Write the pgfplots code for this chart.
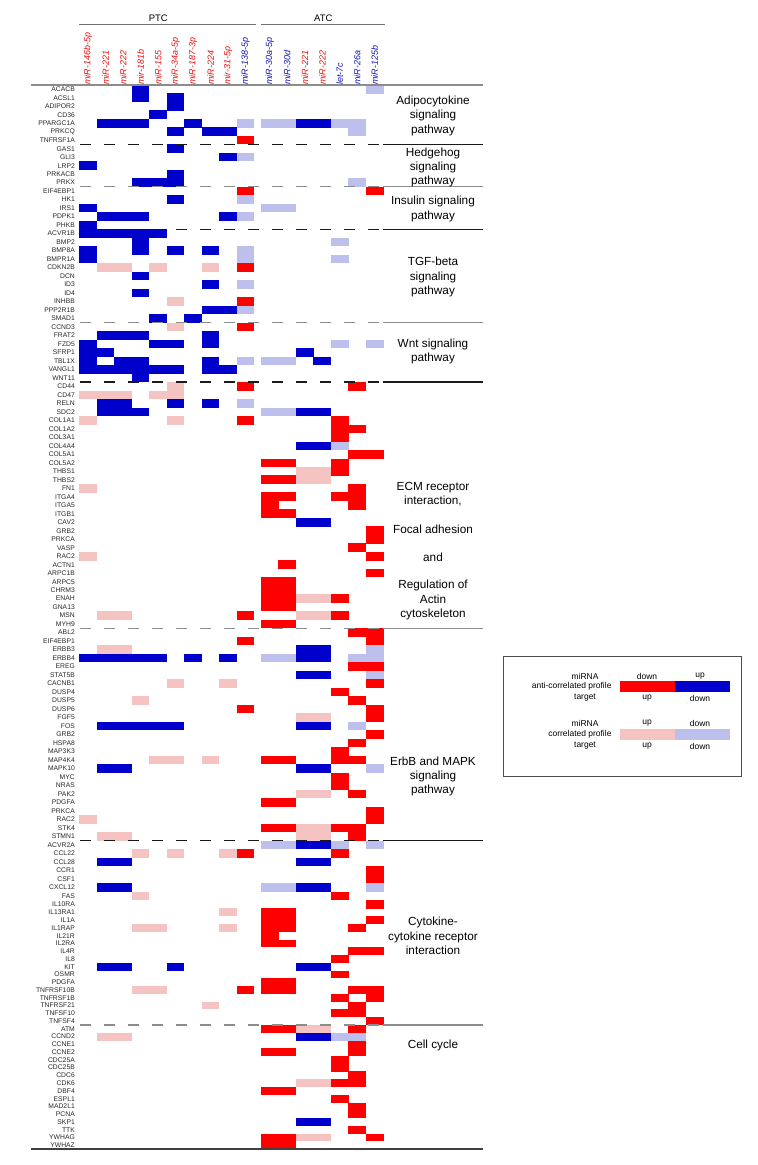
\documentclass[border=0pt]{standalone}
\usepackage{fontspec}
\setmainfont{Liberation Sans}
\usepackage{pgfplots}
\pgfplotsset{compat=1.18}
\usepackage{pgfplotstable}

\definecolor{cR}{HTML}{FF0000}
\definecolor{cB}{HTML}{0000CC}
\definecolor{cP}{HTML}{F6C3C3}
\definecolor{cL}{HTML}{BDBFEC}
\definecolor{lR}{HTML}{EE1111}
\definecolor{lB}{HTML}{1414BE}
\definecolor{sepK}{HTML}{1A1A1A}
\definecolor{sepG}{HTML}{8C8C8C}

\pgfdeclareplotmark{cellA}{\pgfpathrectangle{\pgfpoint{-8.8bp}{-4.3bp}}{\pgfpoint{17.6bp}{8.6bp}}\pgfusepath{fill}}
\pgfdeclareplotmark{cellB}{\pgfpathrectangle{\pgfpoint{-8.8bp}{-3.93bp}}{\pgfpoint{17.6bp}{7.86bp}}\pgfusepath{fill}}

% c = miRNA column (0-9 PTC, 10-16 ATC), r = gene row (0 = ACACB ... 127 = YWHAZ)
% red: anti-correlated, miRNA down / target up
\pgfplotstableread[row sep=\\]{
c r\\
9 6\\ 9 12\\ 16 12\\ 9 21\\ 9 25\\ 9 28\\ 9 35\\ 15 35\\ 9 39\\ 14 39\\ 14 40\\ 15 40\\ 14 41\\
15 43\\ 16 43\\ 10 44\\ 11 44\\ 14 44\\ 14 45\\ 10 46\\ 11 46\\ 15 47\\ 10 48\\ 11 48\\ 14 48\\ 15 48\\
10 49\\ 15 49\\ 10 50\\ 11 50\\ 16 52\\ 16 53\\ 15 54\\ 16 55\\ 11 56\\ 16 57\\ 10 58\\ 11 58\\
10 59\\ 11 59\\ 10 60\\ 11 60\\ 14 60\\ 10 61\\ 11 61\\ 9 62\\ 14 62\\ 10 63\\ 11 63\\ 15 64\\ 16 64\\
9 65\\ 16 65\\ 15 68\\ 16 68\\ 16 70\\ 14 71\\ 15 72\\ 9 73\\ 16 73\\ 16 74\\ 16 76\\ 15 77\\ 14 78\\
10 79\\ 11 79\\ 14 79\\ 15 79\\ 14 81\\ 14 82\\ 15 83\\ 10 84\\ 11 84\\ 16 85\\ 16 86\\
10 87\\ 11 87\\ 14 87\\ 15 87\\ 15 88\\ 9 90\\ 14 90\\ 16 92\\ 16 93\\ 14 95\\ 16 96\\
10 97\\ 11 97\\ 10 98\\ 11 98\\ 16 98\\ 10 99\\ 11 99\\ 15 99\\ 10 100\\ 10 101\\ 11 101\\
15 102\\ 16 102\\ 14 103\\ 14 105\\ 10 106\\ 11 106\\ 9 107\\ 10 107\\ 11 107\\ 15 107\\ 16 107\\
14 108\\ 16 108\\ 15 109\\ 14 110\\ 15 110\\ 16 111\\ 10 112\\ 11 112\\ 15 112\\ 15 114\\
10 115\\ 11 115\\ 15 115\\ 14 116\\ 14 117\\ 15 118\\ 14 119\\ 15 119\\ 10 120\\ 11 120\\ 14 121\\
15 122\\ 15 123\\ 15 125\\ 10 126\\ 11 126\\ 16 126\\ 10 127\\ 11 127\\
}\tabR
% blue: anti-correlated, miRNA up / target down
\pgfplotstableread[row sep=\\]{
c r\\
3 0\\ 3 1\\ 5 1\\ 5 2\\ 4 3\\ 1 4\\ 2 4\\ 3 4\\ 6 4\\ 12 4\\ 13 4\\ 5 5\\ 7 5\\ 8 5\\ 5 7\\ 8 8\\ 0 9\\
5 10\\ 3 11\\ 4 11\\ 5 11\\ 5 13\\ 0 14\\ 1 15\\ 2 15\\ 3 15\\ 8 15\\ 0 16\\ 0 17\\ 1 17\\ 2 17\\ 3 17\\ 4 17\\
3 18\\ 0 19\\ 3 19\\ 5 19\\ 7 19\\ 0 20\\ 3 22\\ 7 23\\ 3 24\\ 7 26\\ 8 26\\ 4 27\\ 6 27\\
1 29\\ 2 29\\ 3 29\\ 7 29\\ 0 30\\ 4 30\\ 5 30\\ 7 30\\ 0 31\\ 1 31\\ 12 31\\ 0 32\\ 2 32\\ 3 32\\ 7 32\\ 13 32\\
0 33\\ 1 33\\ 2 33\\ 3 33\\ 4 33\\ 5 33\\ 7 33\\ 8 33\\ 3 34\\ 1 37\\ 2 37\\ 5 37\\ 7 37\\
1 38\\ 2 38\\ 3 38\\ 12 38\\ 13 38\\ 12 42\\ 13 42\\ 12 51\\ 13 51\\ 12 66\\ 13 66\\
0 67\\ 1 67\\ 2 67\\ 3 67\\ 4 67\\ 6 67\\ 8 67\\ 12 67\\ 13 67\\ 12 69\\ 13 69\\
1 75\\ 2 75\\ 3 75\\ 4 75\\ 5 75\\ 12 75\\ 13 75\\ 1 80\\ 2 80\\ 12 80\\ 13 80\\ 12 89\\ 13 89\\
1 91\\ 2 91\\ 12 91\\ 13 91\\ 1 94\\ 2 94\\ 12 94\\ 13 94\\ 1 104\\ 2 104\\ 5 104\\ 12 104\\ 13 104\\
12 113\\ 13 113\\ 12 124\\ 13 124\\
}\tabB
% pink: correlated, miRNA up / target up
\pgfplotstableread[row sep=\\]{
c r\\
1 21\\ 2 21\\ 4 21\\ 7 21\\ 5 25\\ 5 28\\ 5 35\\ 0 36\\ 1 36\\ 2 36\\ 4 36\\ 5 36\\ 0 39\\ 5 39\\
12 45\\ 13 45\\ 12 46\\ 13 46\\ 0 47\\ 0 55\\ 12 60\\ 13 60\\ 1 62\\ 2 62\\ 12 62\\ 13 62\\ 1 66\\ 2 66\\
5 70\\ 8 70\\ 3 72\\ 12 74\\ 13 74\\ 4 79\\ 5 79\\ 7 79\\ 12 83\\ 13 83\\ 0 86\\ 12 87\\ 13 87\\
1 88\\ 2 88\\ 12 88\\ 13 88\\ 3 90\\ 5 90\\ 8 90\\ 3 95\\ 8 97\\ 3 99\\ 4 99\\ 8 99\\ 3 107\\ 4 107\\
7 109\\ 12 112\\ 13 112\\ 1 113\\ 2 113\\ 12 119\\ 13 119\\ 12 126\\ 13 126\\
}\tabP
% light blue: correlated, miRNA down / target down
\pgfplotstableread[row sep=\\]{
c r\\
16 0\\ 9 4\\ 10 4\\ 11 4\\ 14 4\\ 15 4\\ 15 5\\ 9 8\\ 15 11\\ 9 13\\ 10 14\\ 11 14\\ 9 15\\ 14 18\\
9 19\\ 9 20\\ 14 20\\ 9 23\\ 9 26\\ 14 30\\ 16 30\\ 9 32\\ 10 32\\ 11 32\\ 9 37\\ 10 38\\ 11 38\\
14 42\\ 16 66\\ 10 67\\ 11 67\\ 15 67\\ 16 67\\ 16 69\\ 15 75\\ 16 80\\ 10 89\\ 11 89\\ 14 89\\ 16 89\\
10 94\\ 11 94\\ 16 94\\ 14 113\\ 15 113\\
}\tabL

\pgfplotsset{heat/.style={
  x=17.5bp, enlargelimits=false, clip=false, xmin=-0.5, xmax=16.883,
  axis line style={draw=none}, tick style={draw=none}, major tick length=0pt,
  y dir=reverse,
  yticklabel style={font=\fontsize{6.8}{7}\selectfont, inner sep=0pt, xshift=-4.3bp, anchor=east, text=black!85},
  x filter/.expression={x>9.5 ? x+0.383 : x}}}

\begin{document}
\begin{tikzpicture}
\begin{axis}[heat, name=A, y=8.49bp, ymin=-0.5, ymax=96.5,
  ytick={0,...,96},
  yticklabels={ACACB,ACSL1,ADIPOR2,CD36,PPARGC1A,PRKCQ,TNFRSF1A,GAS1,GLI3,LRP2,PRKACB,PRKX,EIF4EBP1,HK1,IRS1,PDPK1,PHKB,ACVR1B,BMP2,BMP8A,BMPR1A,CDKN2B,DCN,ID3,ID4,INHBB,PPP2R1B,SMAD1,CCND3,FRAT2,FZD5,SFRP1,TBL1X,VANGL1,WNT11,CD44,CD47,RELN,SDC2,COL1A1,COL1A2,COL3A1,COL4A4,COL5A1,COL5A2,THBS1,THBS2,FN1,ITGA4,ITGA5,ITGB1,CAV2,GRB2,PRKCA,VASP,RAC2,ACTN1,ARPC1B,ARPC5,CHRM3,ENAH,GNA13,MSN,MYH9,ABL2,EIF4EBP1,ERBB3,ERBB4,EREG,STAT5B,CACNB1,DUSP4,DUSP5,DUSP6,FGF5,FOS,GRB2,HSPA8,MAP3K3,MAP4K4,MAPK10,MYC,NRAS,PAK2,PDGFA,PRKCA,RAC2,STK4,STMN1,ACVR2A,CCL22,CCL28,CCR1,CSF1,CXCL12,FAS,IL10RA},
  xtick={0,1,2,3,4,5,6,7,8,9,10.383,11.383,12.383,13.383,14.383,15.383,16.383},
  xticklabels={\textcolor{lR}{miR-146b-5p},\textcolor{lR}{miR-221},\textcolor{lR}{miR-222},\textcolor{lR}{mir-181b},\textcolor{lR}{miR-155},\textcolor{lR}{miR-34a-5p},\textcolor{lR}{miR-187-3p},\textcolor{lR}{miR-224},\textcolor{lR}{mir-31-5p},\textcolor{lB}{miR-138-5p},\textcolor{lB}{miR-30a-5p},\textcolor{lB}{miR-30d},\textcolor{lR}{miR-221},\textcolor{lR}{miR-222},\textcolor{lB}{let-7c},\textcolor{lB}{miR-26a},\textcolor{lB}{miR-125b}},
  xticklabel pos=upper,
  xticklabel style={rotate=90, anchor=west, inner sep=0pt, font=\fontsize{9}{10}\selectfont\itshape},
]
\addplot[only marks, mark=cellA, mark options={fill=cR}, restrict y to domain=-1:96.6] table[x=c,y=r]{\tabR};
\addplot[only marks, mark=cellA, mark options={fill=cB}, restrict y to domain=-1:96.6] table[x=c,y=r]{\tabB};
\addplot[only marks, mark=cellA, mark options={fill=cP}, restrict y to domain=-1:96.6] table[x=c,y=r]{\tabP};
\addplot[only marks, mark=cellA, mark options={fill=cL}, restrict y to domain=-1:96.6] table[x=c,y=r]{\tabL};
\end{axis}

\begin{axis}[heat, name=B, at={(A.south west)}, anchor=north west, y=7.76bp, ymin=96.5, ymax=127.5,
  ytick={97,...,127},
  yticklabels={IL13RA1,IL1A,IL1RAP,IL21R,IL2RA,IL4R,IL8,KIT,OSMR,PDGFA,TNFRSF10B,TNFRSF1B,TNFRSF21,TNFSF10,TNFSF4,ATM,CCND2,CCNE1,CCNE2,CDC25A,CDC25B,CDC6,CDK6,DBF4,ESPL1,MAD2L1,PCNA,SKP1,TTK,YWHAG,YWHAZ},
  xtick=\empty,
]
\addplot[only marks, mark=cellB, mark options={fill=cR}, restrict y to domain=96.6:128] table[x=c,y=r]{\tabR};
\addplot[only marks, mark=cellB, mark options={fill=cB}, restrict y to domain=96.6:128] table[x=c,y=r]{\tabB};
\addplot[only marks, mark=cellB, mark options={fill=cP}, restrict y to domain=96.6:128] table[x=c,y=r]{\tabP};
\addplot[only marks, mark=cellB, mark options={fill=cL}, restrict y to domain=96.6:128] table[x=c,y=r]{\tabL};
\end{axis}

\begin{scope}[shift={(A.north west)}, x=1bp, y=-1bp]
\begin{scope}[shift={(-79.3,-85)}]
\path (0,0) rectangle (758,1165);
% group headers
\node[font=\fontsize{9.5}{11}\selectfont] at (158.3,18.3) {PTC};
\node[font=\fontsize{9.5}{11}\selectfont] at (323.3,18.3) {ATC};
\draw[sepG!80!black, line width=1.2bp] (79.3,24.7) -- (255.7,24.7);
\draw[sepG!80!black, line width=1.2bp] (261,24.7) -- (385,24.7);
% frame lines
\draw[sepG, line width=1.5bp] (31,85) -- (483,85);
\draw[black!75, line width=1.3bp] (31,1149) -- (483,1149);
% separators
\foreach \yy/\cc in {144.4/sepK,186.9/sepG,229.3/sepK,322.7/sepG,382.1/sepK,628.3/sepG,840.6/sepK,1024.9/sepG}{
  \draw[\cc, line width=1.2bp, dash pattern=on 11bp off 13bp] (80,\yy) -- (383,\yy);
  \draw[\cc, line width=1.2bp] (383,\yy) -- (483,\yy);
}
% pathway labels
\begin{scope}[every node/.style={font=\fontsize{11.8}{13}\selectfont, anchor=base}]
\node at (433,104.5) {Adipocytokine};
\node at (433,118.8) {signaling};
\node at (433,133.1) {pathway};
\node at (433,156.1) {Hedgehog};
\node at (433,170.5) {signaling};
\node at (433,184.5) {pathway};
\node at (433,204.8) {Insulin signaling};
\node at (433,219.1) {pathway};
\node at (433,265.8) {TGF-beta};
\node at (433,280.1) {signaling};
\node at (433,294.5) {pathway};
\node at (433,347.8) {Wnt signaling};
\node at (433,361.8) {pathway};
\node at (433,490.8) {ECM receptor};
\node at (433,504.8) {interaction,};
\node at (433,533.8) {Focal adhesion};
\node at (433,561.3) {and};
\node at (433,588.8) {Regulation of};
\node at (433,603.8) {Actin};
\node at (433,617.8) {cytoskeleton};
\node at (433,765.8) {ErbB and MAPK};
\node at (433,779.8) {signaling};
\node at (433,793.8) {pathway};
\node at (433,925.8) {Cytokine-};
\node at (433,940.8) {cytokine receptor};
\node at (433,954.8) {interaction};
\node at (433,1048.8) {Cell cycle};
\end{scope}
% legend
\draw[black!70, line width=0.8bp] (503,656) rectangle (741,776);
\fill[cR] (620,681) rectangle (675,692);
\fill[cB] (675,681) rectangle (730,692);
\fill[cP] (620,729) rectangle (675,740);
\fill[cL] (675,729) rectangle (730,740);
\begin{scope}[every node/.style={font=\fontsize{8.5}{10}\selectfont}]
\node at (585,676) {miRNA}; \node at (647,676) {down}; \node at (700,676) {up};
\node[anchor=east] at (615,686.5) {anti-correlated profile};
\node at (585,698) {target}; \node at (647,698) {up}; \node at (700,698) {down};
\node at (585,723) {miRNA}; \node at (647,723) {up}; \node at (700,723) {down};
\node[anchor=east] at (615,734.5) {correlated profile};
\node at (585,746) {target}; \node at (647,746) {up}; \node at (700,746) {down};
\end{scope}
\end{scope}
\end{scope}
\end{tikzpicture}
\end{document}
